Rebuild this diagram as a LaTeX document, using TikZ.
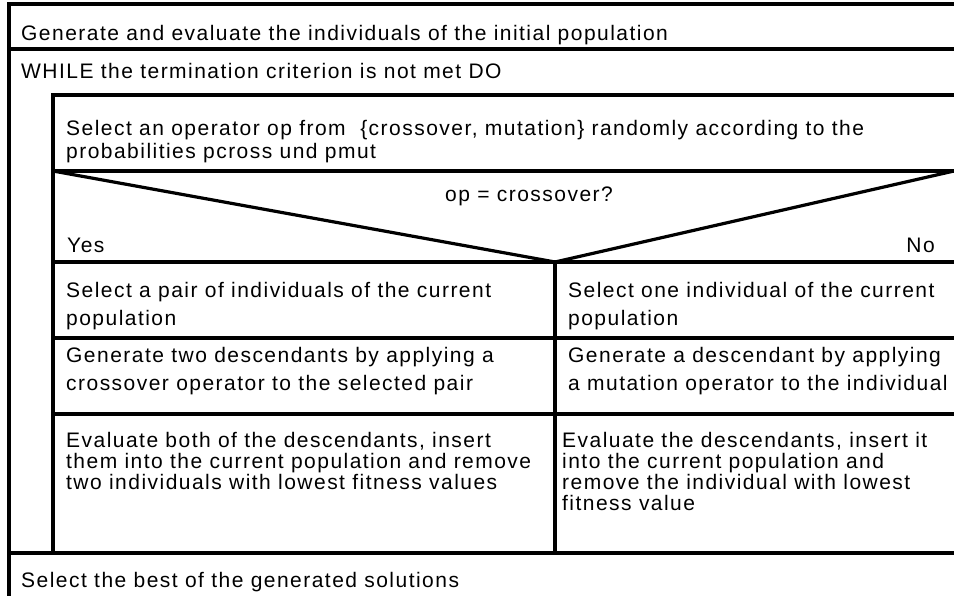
\documentclass[tikz,border=0pt]{standalone}
\usepackage{fontspec}
\setmainfont{Liberation Sans}[LetterSpace=7]
\usepackage{tikz}
\usetikzlibrary{positioning}

\tikzset{
  nsline/.style = {line width=3.2pt, line cap=rect},
  cell/.style   = {draw=none, anchor=base west, inner sep=0pt, font=\fontsize{21}{23}\selectfont},
}

\begin{document}
\begin{tikzpicture}[x=1pt, y=-1pt]

\useasboundingbox (0,0) rectangle (954,595);

% corners of the structogram
\coordinate (t1) at (9,4);     \coordinate (t2) at (954,4);
\coordinate (g1) at (9,49);    \coordinate (g2) at (954,49);
\coordinate (w1) at (53,95);   \coordinate (w2) at (954,95);
\coordinate (s1) at (53,171);  \coordinate (s2) at (954,171);
\coordinate (v)  at (555,262);
\coordinate (c1) at (53,262);  \coordinate (c2) at (954,262);
\coordinate (p1) at (53,338);  \coordinate (p2) at (954,338);
\coordinate (d1) at (53,414);  \coordinate (d2) at (954,414);
\coordinate (e1) at (9,553);   \coordinate (e2) at (954,553);
\coordinate (e3) at (53,553);  \coordinate (e4) at (555,553);
\coordinate (b1) at (9,595);

\path [draw, nsline] (t1) edge (t2);
\path [draw, nsline] (g1) edge (g2);
\path [draw, nsline] (w1) edge (w2);
\path [draw, nsline] (s1) edge (s2);
	\path [draw, nsline] (s1) edge (v);
	\path [draw, nsline] (v)  edge (s2);
\path [draw, nsline] (c1) edge (c2);
\path [draw, nsline] (p1) edge (p2);
\path [draw, nsline] (d1) edge (d2);
\path [draw, nsline] (e1) edge (e2);
	\path [draw, nsline] (t1) edge (b1);
	\path [draw, nsline] (w1) edge (e3);
	\path [draw, nsline] (v)  edge (e4);

\node [cell                  ] (init)    at (21,40)   {Generate and evaluate the individuals of the initial population};
\node [cell                  ] (loop)    at (21,78)   {WHILE the termination criterion is not met DO};
\node [cell                  ] (choose1) at (66,135)  {Select an operator op from~~\{crossover, mutation\} randomly according to the};
\node [cell                  ] (choose2) at (66,158)  {probabilities pcross und pmut};
\node [cell, anchor=base     ] (cond)    at (529,201) {op = crossover?};
\node [cell                  ] (yes)     at (67,252)  {Yes};
\node [cell, anchor=base east] (no)      at (935,252) {No};

% yes branch
\node [cell] (pair1)  at (66,297) {Select a pair of individuals of the current};
\node [cell] (pair2)  at (66,325) {population};
\node [cell] (cross1) at (66,362) {Generate two descendants by applying a};
\node [cell] (cross2) at (66,390) {crossover operator to the selected pair};
\node [cell] (both1)  at (66,447) {Evaluate both of the descendants, insert};
\node [cell] (both2)  at (66,468) {them into the current population and remove};
\node [cell] (both3)  at (66,489) {two individuals with lowest fitness values};

% no branch
\node [cell] (one1)   at (568,297) {Select one individual of the current};
\node [cell] (one2)   at (568,325) {population};
\node [cell] (mut1)   at (568,362) {Generate a descendant by applying};
\node [cell] (mut2)   at (568,390) {a mutation operator to the individual};
\node [cell] (single1) at (562,447) {Evaluate the descendants, insert it};
\node [cell] (single2) at (562,468) {into the current population and};
\node [cell] (single3) at (562,489) {remove the individual with lowest};
\node [cell] (single4) at (562,510) {fitness value};

\node [cell                  ] (best)    at (21,587)  {Select the best of the generated solutions};

\end{tikzpicture}
\end{document}
